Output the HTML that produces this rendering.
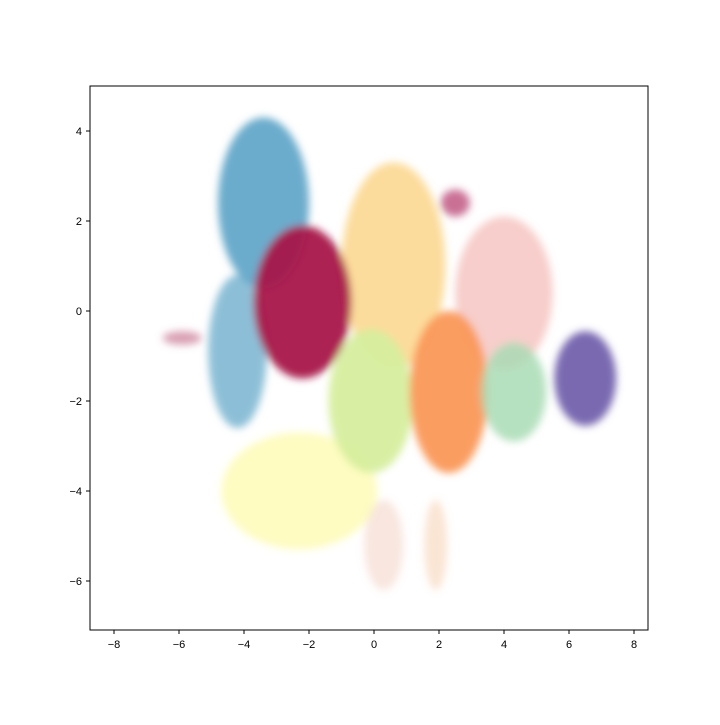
<!DOCTYPE html>
<html><head><meta charset="utf-8"><style>
body{margin:0;background:#fff;font-family:"Liberation Sans",sans-serif}
</style></head><body>
<svg id="chart" width="720" height="720" xmlns="http://www.w3.org/2000/svg">
<defs><filter id="blur" x="-50%" y="-50%" width="200%" height="200%"><feGaussianBlur stdDeviation="4"/></filter></defs>
<rect width="720" height="720" fill="#fff"/>
<g id="clusters" filter="url(#blur)"></g>
<rect x="90" y="86" width="558" height="544" fill="none" stroke="#000" stroke-width="1"/>
<g id="axes"></g>
</svg>
<script>
const clusterNames=["red","blue-lower","blue","light-orange","magenta","pale-yellow","light-green","orange","mint","purple","magenta-small","left-spike","bottom-tail","bottom-tail-2"];
const clusterX=[4.0,-4.2,-3.4,0.6,-2.2,-2.3,-0.1,2.3,4.3,6.5,2.5,-5.9,0.3,1.9];
const clusterY=[0.4,-0.9,2.4,1.0,0.2,-4.0,-2.0,-1.8,-1.8,-1.5,2.4,-0.6,-5.2,-5.2];
const clusterRX=[1.5,0.9,1.4,1.6,1.5,2.4,1.3,1.2,1.0,0.95,0.45,0.6,0.6,0.35];
const clusterRY=[1.7,1.7,1.9,2.3,1.7,1.3,1.6,1.8,1.1,1.05,0.3,0.15,1.0,1.0];
const clusterColor=["#f0a6a0","#78b4d0","#5ba3c6","#fcd891","#a8174a","#fefcbe","#d6ee9e","#fa9858","#a9dcb5","#6b5aa8","#b3336a","#c06080","#efc8b8","#f6d0b0"];
const clusterOpacity=[0.55,0.85,0.9,0.9,0.95,0.95,0.95,0.95,0.85,0.9,0.7,0.6,0.45,0.55];
const xTicks=[-8,-6,-4,-2,0,2,4,6,8];
const yTicks=[4,2,0,-2,-4,-6];
const X=v=>374+v*32.5, Y=v=>311-v*45;
const NS="http://www.w3.org/2000/svg";
const g=document.getElementById('clusters');
clusterNames.forEach((n,i)=>{
 const e=document.createElementNS(NS,'ellipse');
 e.setAttribute('cx',X(clusterX[i]));e.setAttribute('cy',Y(clusterY[i]));
 e.setAttribute('rx',clusterRX[i]*32.5);e.setAttribute('ry',clusterRY[i]*45);
 e.setAttribute('fill',clusterColor[i]);e.setAttribute('opacity',clusterOpacity[i]);
 
 
 g.appendChild(e);
});
const a=document.getElementById('axes');
xTicks.forEach(t=>{
 const l=document.createElementNS(NS,'line');l.setAttribute('x1',X(t));l.setAttribute('x2',X(t));l.setAttribute('y1',630);l.setAttribute('y2',634);l.setAttribute('stroke','#000');
 
 
 a.appendChild(l);
 const s=document.createElementNS(NS,'text');s.setAttribute('x',X(t));s.setAttribute('y',648);s.setAttribute('text-anchor','middle');s.setAttribute('font-size','11');
 s.textContent=(t<0?'\u2212'+(-t):t);
 
 
 a.appendChild(s);
});
yTicks.forEach(t=>{
 const l=document.createElementNS(NS,'line');l.setAttribute('x1',86);l.setAttribute('x2',90);l.setAttribute('y1',Y(t));l.setAttribute('y2',Y(t));l.setAttribute('stroke','#000');
 
 
 a.appendChild(l);
 const s=document.createElementNS(NS,'text');s.setAttribute('x',82);s.setAttribute('y',Y(t)+4);s.setAttribute('text-anchor','end');s.setAttribute('font-size','11');
 s.textContent=(t<0?'\u2212'+(-t):t);
 
 
 a.appendChild(s);
});
</script>
</body></html>
